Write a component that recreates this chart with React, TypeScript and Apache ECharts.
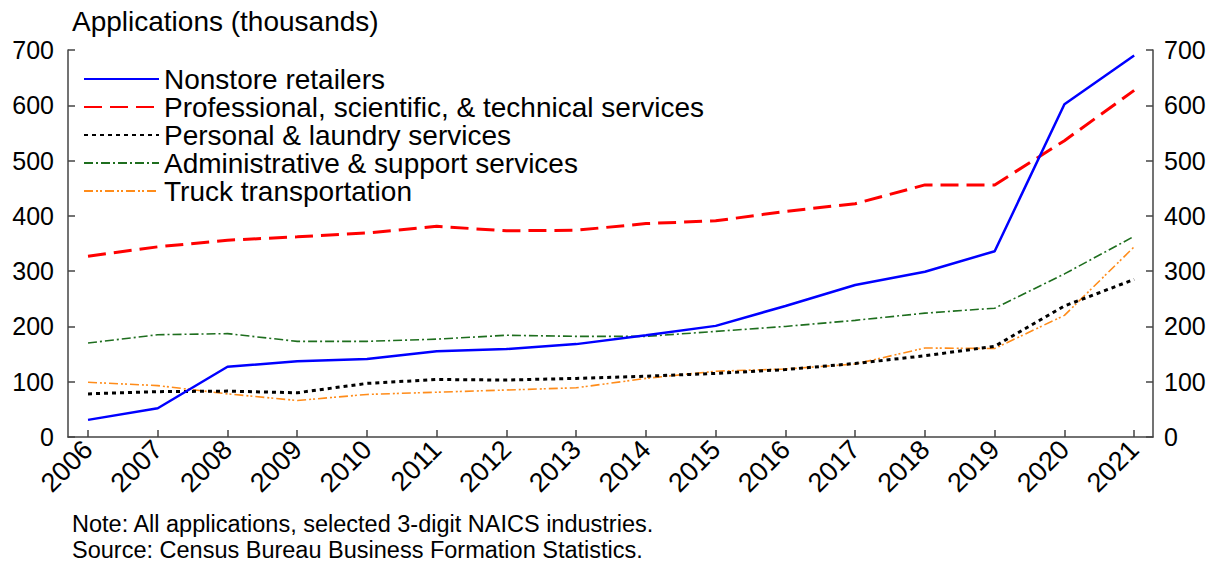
import React, { useEffect, useRef } from "react";
import * as echarts from "echarts";

const years = [2006, 2007, 2008, 2009, 2010, 2011, 2012, 2013, 2014, 2015, 2016, 2017, 2018, 2019, 2020, 2021];
const nonstore = [31, 52, 127, 137, 141, 155, 159, 168, 184, 201, 237, 275, 299, 336, 602, 690];
const professional = [327, 344, 356, 362, 369, 381, 373, 374, 386, 391, 408, 422, 456, 456, 536, 627];
const personal = [78, 82, 83, 80, 97, 104, 103, 106, 110, 115, 122, 133, 147, 164, 237, 285];
const administrative = [170, 185, 187, 173, 173, 177, 184, 182, 182, 191, 200, 211, 224, 233, 295, 363];
const truck = [99, 93, 78, 66, 77, 81, 85, 89, 106, 119, 123, 132, 161, 160, 220, 344];
const yTicks = [0, 100, 200, 300, 400, 500, 600, 700];
const noteLines = [
  "Note: All applications, selected 3-digit NAICS industries.",
  "Source: Census Bureau Business Formation Statistics.",
];

const FONT = "Liberation Sans, Arial, sans-serif";

const pairs = (vals: number[]) => years.map((y, i) => [y, vals[i]]);

export default function App() {
  const ref = useRef<HTMLDivElement>(null);
  useEffect(() => {
    document.body.style.margin = "0";
    if (!ref.current) return;
    const chart = echarts.init(ref.current, null, { renderer: "svg" });
    const axisColor = "#444";
    const yAxisBase = {
      type: "value",
      min: yTicks[0],
      max: yTicks[yTicks.length - 1],
      interval: 100,
      axisLine: { show: true, lineStyle: { color: axisColor, width: 1.5 } },
      axisTick: { show: true, inside: true, length: 7, lineStyle: { color: axisColor, width: 1.5 } },
      splitLine: { show: false },
      axisLabel: { fontSize: 25, color: "#000", fontFamily: FONT, margin: 14 },
    };
    chart.setOption({
      animation: false,
      backgroundColor: "#fff",
      textStyle: { fontFamily: FONT },
      grid: { left: 68, right: 61, top: 50, bottom: 125, containLabel: false },
      xAxis: {
        type: "value",
        min: 2005.713,
        max: 2021.27,
        axisLine: { show: true, onZero: false, lineStyle: { color: axisColor, width: 1.5 } },
        axisTick: { show: true, inside: true, length: 7, customValues: years, lineStyle: { color: axisColor, width: 1.5 } },
        axisLabel: {
          customValues: years,
          rotate: 45,
          fontSize: 27,
          color: "#000",
          fontFamily: FONT,
          margin: 8,
          formatter: (v: number) => String(v),
        },
        splitLine: { show: false },
      },
      yAxis: [
        { ...yAxisBase, position: "left" },
        { ...yAxisBase, position: "right", axisLabel: { ...yAxisBase.axisLabel, margin: 11 } },
      ],
      legend: {
        orient: "vertical",
        left: 83,
        top: 65,
        padding: 0,
        itemWidth: 75,
        itemHeight: 20,
        itemGap: 0,
        itemTextGap: 13,
        itemStyle: { opacity: 0 },
        textStyle: { fontSize: 28, color: "#000", fontFamily: FONT, lineHeight: 28 },
        data: [
          "Nonstore retailers",
          "Professional, scientific, & technical services",
          "Personal & laundry services",
          "Administrative & support services",
          "Truck transportation",
        ],
      },
      graphic: [
        {
          type: "text",
          left: 72,
          top: 7,
          style: { text: "Applications (thousands)", fontSize: 28, fill: "#000", fontFamily: FONT },
        },
        {
          type: "text",
          left: 72,
          top: 512,
          style: { text: noteLines[0], fontSize: 23.5, fill: "#000", fontFamily: FONT },
        },
        {
          type: "text",
          left: 72,
          top: 538,
          style: { text: noteLines[1], fontSize: 23.5, fill: "#000", fontFamily: FONT },
        },
      ],
      series: [
        {
          name: "Nonstore retailers",
          type: "line",
          symbol: "none",
          data: pairs(nonstore),
          lineStyle: { color: "#0000ff", width: 2.5, type: "solid" },
          itemStyle: { color: "#0000ff" },
          z: 5,
        },
        {
          name: "Professional, scientific, & technical services",
          type: "line",
          symbol: "none",
          data: pairs(professional),
          lineStyle: { color: "#ff0000", width: 3, type: [18, 8] },
          itemStyle: { color: "#ff0000" },
          z: 4,
        },
        {
          name: "Personal & laundry services",
          type: "line",
          symbol: "none",
          data: pairs(personal),
          lineStyle: { color: "#000000", width: 3, type: [4, 4] },
          itemStyle: { color: "#000000" },
          z: 3,
        },
        {
          name: "Administrative & support services",
          type: "line",
          symbol: "none",
          data: pairs(administrative),
          lineStyle: { color: "#1e6e1e", width: 1.6, type: [9, 3, 2, 3] },
          itemStyle: { color: "#1e6e1e" },
          z: 2,
        },
        {
          name: "Truck transportation",
          type: "line",
          symbol: "none",
          data: pairs(truck),
          lineStyle: { color: "#ff8c1a", width: 1.6, type: [9, 3, 2, 2, 2, 3] },
          itemStyle: { color: "#ff8c1a" },
          z: 1,
        },
      ],
    });
    return () => chart.dispose();
  }, []);
  return <div ref={ref} style={{ width: 1214, height: 562 }} />;
}
